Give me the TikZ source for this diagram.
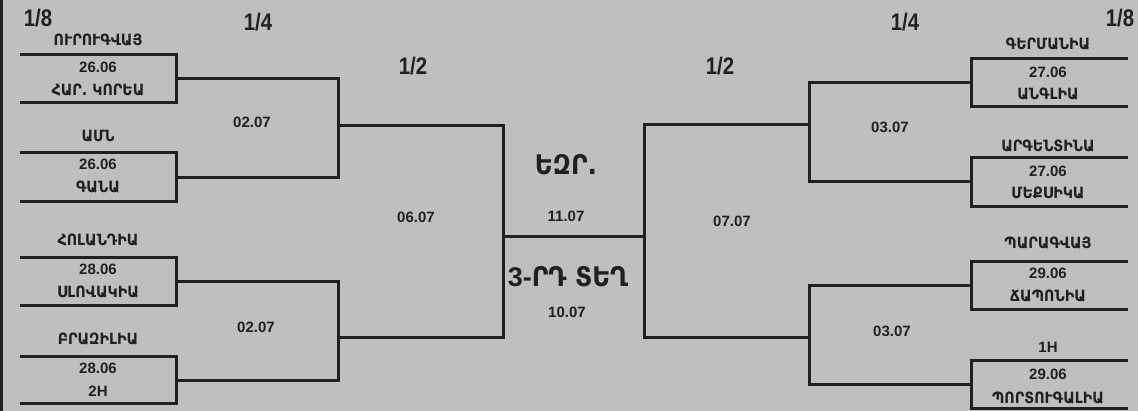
\documentclass[tikz,border=0pt]{standalone}
\usepackage{fontspec}
\setsansfont{Liberation Sans}
\newfontfamily\armfont[FakeStretch=0.92]{DejaVu Sans}
\newfontfamily\roundfont[FakeStretch=0.85]{Liberation Sans}
\usetikzlibrary{positioning,calc}
\definecolor{panelgray}{RGB}{190,191,193}
\definecolor{linedark}{RGB}{35,31,32}

\begin{document}
\begin{tikzpicture}[
 x=1pt, y=-1pt,
 bracket/.style={draw=linedark, line width=3pt},
 team/.style={font=\armfont\bfseries\fontsize{15.5}{17}\selectfont, text=linedark, inner sep=0pt},
 date/.style={font=\sffamily\bfseries\fontsize{15}{17}\selectfont, text=linedark, inner sep=0pt},
 stage/.style={font=\roundfont\bfseries\fontsize{24}{26}\selectfont, text=linedark, inner sep=0pt},
 final/.style={font=\armfont\bfseries\fontsize{27}{29}\selectfont, text=linedark, inner sep=0pt}
]

% Panel
\fill[panelgray] (0,0) rectangle (1138,411);
\useasboundingbox (0,0) rectangle (1138,411);
\draw[linedark, line width=3pt] (1.5,0) -- (1.5,411);

% Round headers
\node[stage] (s8l) at (38,18) {1/8};
\node[stage] (s4l) at (258,22) {1/4};
\node[stage] (s2l) at (413,66) {1/2};
\node[stage] (s2r) at (720,66) {1/2};
\node[stage] (s4r) at (905,22) {1/4};
\node[stage] (s8r) at (1120,18) {1/8};

% Left 1/8 boxes
\draw[bracket] (20,55) -- (176,55) -- (176,103) -- (20,103);
\draw[bracket] (20,153) -- (176,153) -- (176,202) -- (20,202);
\draw[bracket] (20,258) -- (176,258) -- (176,306) -- (20,306);
\draw[bracket] (20,357) -- (176,357) -- (176,404) -- (20,404);
\coordinate (l1) at (176,79);
\coordinate (l2) at (176,178);
\coordinate (l3) at (176,282);
\coordinate (l4) at (176,381);

% Right 1/8 boxes
\draw[bracket] (1128,59) -- (971,59) -- (971,107) -- (1128,107);
\draw[bracket] (1128,158) -- (971,158) -- (971,207) -- (1128,207);
\draw[bracket] (1128,262) -- (971,262) -- (971,310) -- (1128,310);
\draw[bracket] (1128,361) -- (971,361) -- (971,409) -- (1128,409);
\coordinate (r1) at (971,83);
\coordinate (r2) at (971,182);
\coordinate (r3) at (971,286);
\coordinate (r4) at (971,385);

% Later rounds
\coordinate (ql1) at (338,126);
\coordinate (ql2) at (338,338);
\coordinate (sl) at (503,237);
\coordinate (sr) at (644,237);
\coordinate (qr1) at (809,125);
\coordinate (qr2) at (809,338);

% Brackets - left
\draw[bracket] (l1) -| (ql1) |- (l2);
\draw[bracket] (l3) -| (ql2) |- (l4);
\draw[bracket] (ql1) -| (sl) |- (ql2);

% Brackets - right
\draw[bracket] (r1) -| (qr1) |- (r2);
\draw[bracket] (r3) -| (qr2) |- (r4);
\draw[bracket] (qr1) -| (sr) |- (qr2);

% Final
\draw[bracket] (sl) -- (sr);

% Left teams
\node[team] (uru) at (98,40) {ՈՒՐՈՒԳՎԱՅ};
\node[date] (d1) at (98,67) {26.06};
\node[team] (kor) at (98,90) {ՀԱՐ. ԿՈՐԵԱ};
\node[team] (usa) at (98,136) {ԱՄՆ};
\node[date] (d2) at (98,164) {26.06};
\node[team] (gha) at (98,187) {ԳԱՆԱ};
\node[team] (ned) at (98,240) {ՀՈԼԱՆԴԻԱ};
\node[date] (d3) at (98,269) {28.06};
\node[team] (svk) at (98,292) {ՍԼՈՎԱԿԻԱ};
\node[team] (bra) at (98,339) {ԲՐԱԶԻԼԻԱ};
\node[date] (d4) at (98,368) {28.06};
\node[date] (h2) at (98,391) {2H};

% Right teams
\node[team] (ger) at (1048,44) {ԳԵՐՄԱՆԻԱ};
\node[date] (d5) at (1048,72) {27.06};
\node[team] (eng) at (1048,94) {ԱՆԳԼԻԱ};
\node[team] (arg) at (1048,146) {ԱՐԳԵՆՏԻՆԱ};
\node[date] (d6) at (1048,171) {27.06};
\node[team] (mex) at (1048,193) {ՄԵՔՍԻԿԱ};
\node[team] (par) at (1048,243) {ՊԱՐԱԳՎԱՅ};
\node[date] (d7) at (1048,273) {29.06};
\node[team] (jpn) at (1048,296) {ՃԱՊՈՆԻԱ};
\node[date] (h1) at (1048,347) {1H};
\node[date] (d8) at (1048,374) {29.06};
\node[team] (por) at (1048,398) {ՊՈՐՏՈՒԳԱԼԻԱ};

% Match dates
\node[date] (qd1) at (252,122) {02.07};
\node[date] (qd2) at (256,327) {02.07};
\node[date] (sd1) at (416,217) {06.07};
\node[date] (sd2) at (732,221) {07.07};
\node[date] (qd3) at (890,127) {03.07};
\node[date] (qd4) at (892,331) {03.07};

% Final and third place
\node[final] (fin) at (566,165) {ԵԶՐ.};
\node[date] (fd) at (566,216) {11.07};
\node[final] (third) at (568,277) {{\sffamily 3-}ՐԴ ՏԵՂ};
\node[date] (td) at (567,312) {10.07};

\end{tikzpicture}
\end{document}
